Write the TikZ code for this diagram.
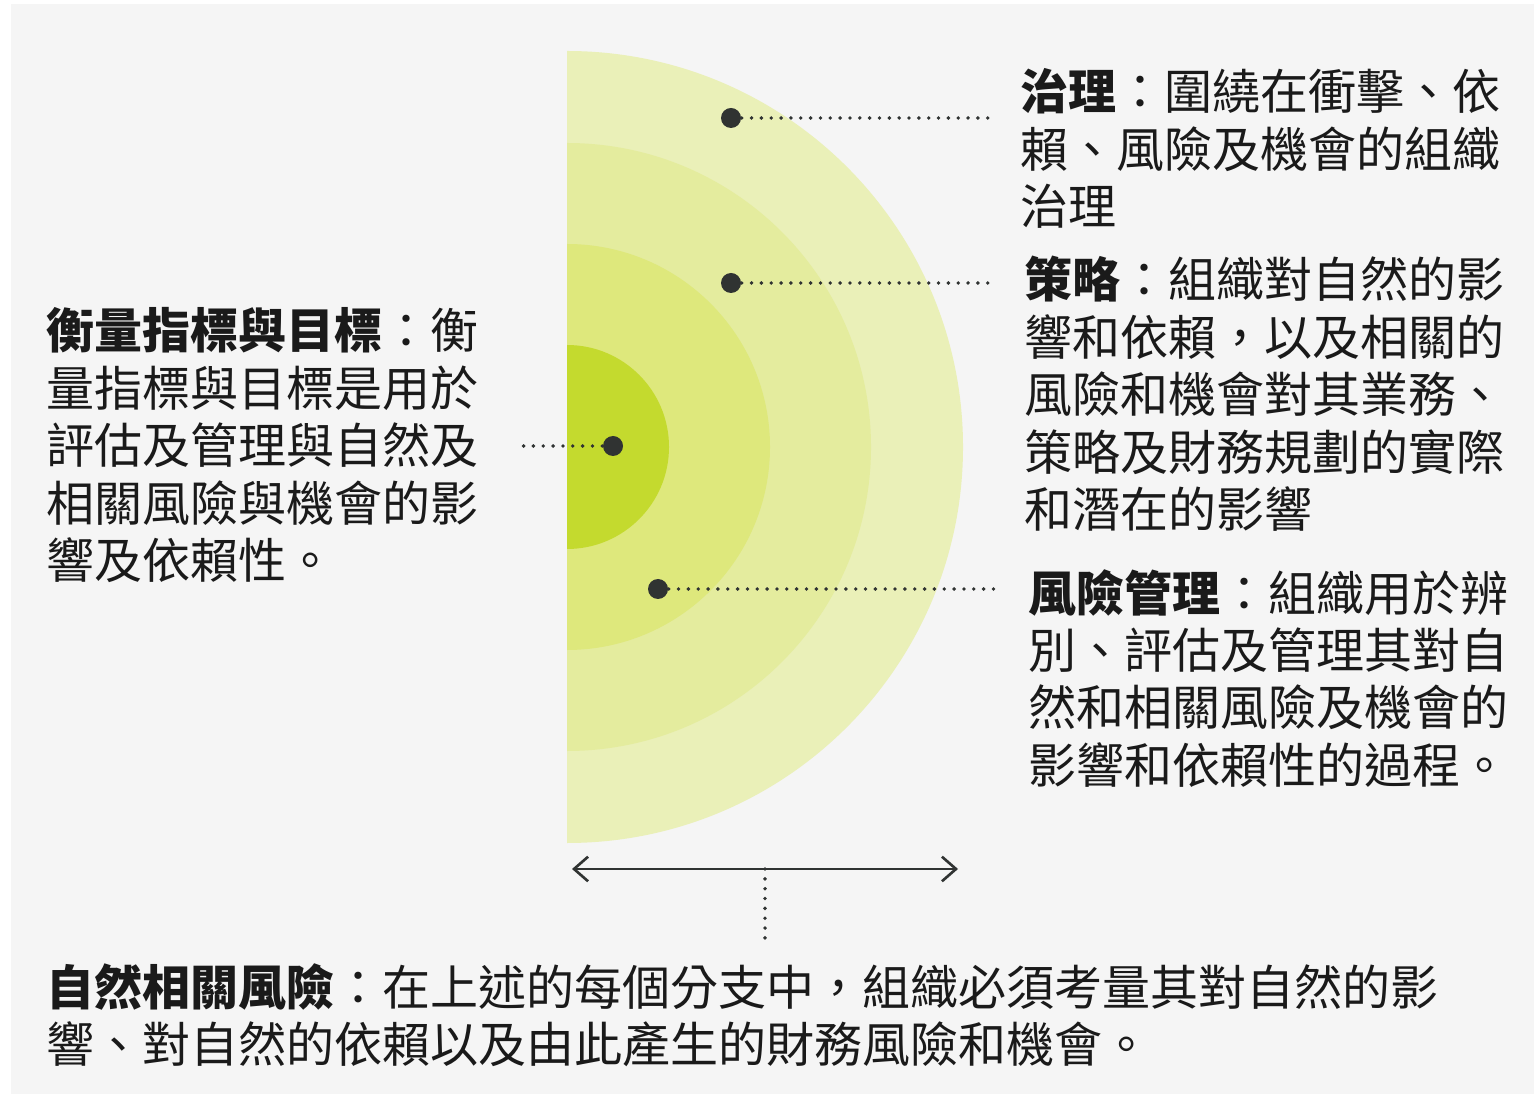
\documentclass[tikz,border=0pt]{standalone}
\usepackage{fontspec}
\newfontfamily\cjk{Noto Sans CJK TC}
\usetikzlibrary{arrows.meta}
\definecolor{bggray}{RGB}{245,245,245}
\definecolor{ringA}{RGB}{234,240,184}
\definecolor{ringB}{RGB}{228,236,158}
\definecolor{ringC}{RGB}{222,232,124}
\definecolor{ringD}{RGB}{196,218,46}
\definecolor{dotgray}{RGB}{48,51,50}
\definecolor{textblack}{RGB}{26,26,26}
\begin{document}
\begin{tikzpicture}[
        font=\cjk\fontsize{13.66}{16.36}\selectfont,
        dot/.style={circle, fill=dotgray, minimum size=0.2cm, inner sep=0pt},
        leader/.style={draw=dotgray, line width=1.1pt, line cap=round,
            dash pattern=on 0pt off 2.8pt},
        desc/.style={anchor=base west, inner sep=0pt, text width=5.4cm,
            align=left, text=textblack},
        span/.style={{Straight Barb[length=4pt,width=7pt]}-{Straight Barb[length=4pt,width=7pt]},
            line width=0.75pt, draw=dotgray}
    ]

        % Fondo
        \useasboundingbox (0,0) rectangle (15.34,10.94);
        \fill[bggray] (0.11,0) rectangle (15.34,10.90);

        % Anillos
        \fill[ringA] (5.67,2.51) arc[start angle=-90, end angle=90, radius=3.96] -- cycle;
        \fill[ringB] (5.67,3.43) arc[start angle=-90, end angle=90, radius=3.04] -- cycle;
        \fill[ringC] (5.67,4.44) arc[start angle=-90, end angle=90, radius=2.03] -- cycle;
        \fill[ringD] (5.67,5.45) arc[start angle=-90, end angle=90, radius=1.02] -- cycle;

        % Puntos
        \node[dot] (dotGov) at (7.31,9.76) {};
        \node[dot] (dotStrat) at (7.31,8.11) {};
        \node[dot] (dotMetric) at (6.13,6.48) {};
        \node[dot] (dotRisk) at (6.58,5.05) {};

        % Textos
        \node[desc] (gov) at (10.20,9.84) {
            {\bfseries 治理}：圍繞在衝擊、依\\
            賴、風險及機會的組織\\
            治理
        };

        \node[desc] (strat) at (10.24,7.96) {
            {\bfseries 策略}：組織對自然的影\\
            響和依賴，以及相關的\\
            風險和機會對其業務、\\
            策略及財務規劃的實際\\
            和潛在的影響
        };

        \node[desc] (risk) at (10.28,4.83) {
            {\bfseries 風險管理}：組織用於辨\\
            別、評估及管理其對自\\
            然和相關風險及機會的\\
            影響和依賴性的過程。
        };

        \node[desc] (metric) at (0.46,7.45) {
            {\bfseries 衡量指標與目標}：衡\\
            量指標與目標是用於\\
            評估及管理與自然及\\
            相關風險與機會的影\\
            響及依賴性。
        };

        \node[desc, text width=14.5cm] (nature) at (0.46,0.89) {
            {\bfseries 自然相關風險}：在上述的每個分支中，組織必須考量其對自然的影\\
            響、對自然的依賴以及由此產生的財務風險和機會。
        };

        % Lineas
        \coordinate (metricEnd) at (5.20,6.48);
        \draw[leader] (dotGov) -- ([xshift=-0.25cm]dotGov -| gov.west);
        \draw[leader] (dotStrat) -- ([xshift=-0.29cm]dotStrat -| strat.west);
        \draw[leader] (dotRisk) -- ([xshift=-0.33cm]dotRisk -| risk.west);
        \draw[leader] (dotMetric) -- (metricEnd);

        % Extension
        \coordinate (spanL) at (5.72,2.25);
        \coordinate (spanR) at (9.58,2.25);
        \coordinate (spanMid) at (7.65,2.25);
        \coordinate (spanFoot) at (7.65,1.55);
        \draw[span] (spanL) -- (spanR);
        \draw[leader] (spanMid) -- (spanFoot);

    \end{tikzpicture}
\end{document}
